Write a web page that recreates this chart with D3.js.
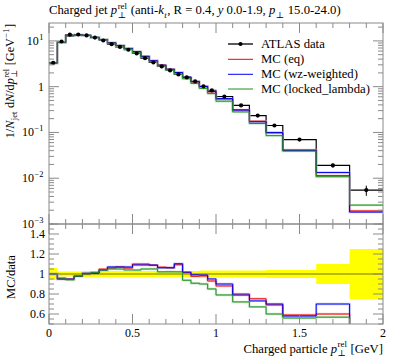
<!DOCTYPE html>
<html><head><meta charset="utf-8">
<script src="https://cdn.jsdelivr.net/npm/d3@7"></script>
<style>
html,body{margin:0;padding:0;background:#fff;}
svg text{font-family:"Liberation Serif","DejaVu Serif",serif;fill:#000;white-space:pre;}
</style></head>
<body><svg id="c" width="397" height="358"></svg>
<script>
// ---- data ----
const binEdges = [0,0.05,0.1,0.15,0.2,0.25,0.3,0.35,0.4,0.45,0.5,0.55,0.6,0.65,0.7,0.75,0.8,0.85,0.9,0.95,1.0,1.1,1.2,1.3,1.4,1.6,1.8,2.0];
const atlasData = [3.3,9.7,13.7,13.8,13.2,11.8,10.2,8.5,7.4,6.4,5.3,4.2,3.37,2.77,2.26,1.85,1.59,1.30,1.02,0.83,0.61,0.39,0.234,0.142,0.070,0.019,0.0055];
const atlasRelErr = [0.06,0.025,0.025,0.025,0.03,0.03,0.03,0.03,0.03,0.03,0.03,0.03,0.03,0.03,0.03,0.03,0.03,0.03,0.035,0.035,0.035,0.035,0.035,0.04,0.04,0.10,0.25];
const mcEq = [3.30,9.22,13.0,13.5,13.2,11.9,10.7,9.01,7.92,6.78,5.83,4.62,3.67,2.96,2.40,2.02,1.61,1.27,1.00,0.772,0.537,0.312,0.176,0.098,0.0413,0.0114,0.00193];
const mcWz = [3.30,9.22,13.0,13.5,13.3,11.9,10.6,9.10,7.92,6.85,5.78,4.58,3.67,2.94,2.40,2.04,1.62,1.29,1.01,0.789,0.549,0.308,0.171,0.0994,0.0406,0.0133,0.00182];
const mcLocked = [3.30,9.31,12.9,13.5,13.2,12.0,10.6,8.93,7.77,6.66,5.51,4.41,3.54,2.83,2.31,1.89,1.49,1.18,0.918,0.706,0.482,0.281,0.157,0.0852,0.0392,0.0108,0.00259];
const seriesNames = ["ATLAS data","MC (eq)","MC (wz-weighted)","MC (locked_lambda)"];
const seriesColors = ["#000000","#ee0000","#0000ee","#1f8f1f"];
const bandColors = ["#000","#ff9a9a","#9a9aff","#8fcf8f"];
const xTickLabels = ["0","0.5","1","1.5","2"];
const ratioTickLabels = ["0.6","0.8","1","1.2","1.4"];

// ---- layout ----
const L=49,R=383,T=23,MB=224,RB=324;
const svg=d3.select("#c");
const x=d3.scaleLinear().domain([0,2]).range([L,R]);
const y=d3.scaleLog().domain([1e-3,24.6]).range([MB,T]);
const yr=d3.scaleLinear().domain([0.5,1.5]).range([RB,MB]);
const frameCol="#8a8a8a";

function rich(parent,px,py,parts,size,anchor,rot){
  const g=parent.append("g");
  let cx=0;
  const add=(t,xx,yy,sz,it)=>{const e=g.append("text").attr("x",xx).attr("y",yy).attr("font-size",sz).attr("xml:space","preserve").text(t);if(it)e.attr("font-style","italic");return e.node().getComputedTextLength();};
  parts.forEach(p=>{
    if(typeof p==="string"){cx+=add(p,cx,0,size,false);}
    else if(p.i!==undefined){cx+=add(p.i,cx,0,size,true);}
    else{
      let w=0;
      if(p.sup!==undefined)w=Math.max(w,add(p.sup,cx+0.5,-0.42*size,size*0.7,p.it));
      if(p.sub!==undefined)w=Math.max(w,add(p.sub,cx+0.5,0.28*size,size*0.7,p.it));
      cx+=w+1;
    }
  });
  const off=anchor==="end"?-cx:anchor==="middle"?-cx/2:0;
  g.attr("transform",`translate(${px},${py}) rotate(${rot||0}) translate(${off},0)`);
  return g;
}

function stepPts(vals){const pts=[];vals.forEach((v,i)=>{pts.push([binEdges[i],v]);pts.push([binEdges[i+1],v]);});return pts;}

const defs=svg.append("defs");
defs.append("clipPath").attr("id","cm").append("rect").attr("x",L).attr("y",T).attr("width",R-L).attr("height",MB-T);
defs.append("clipPath").attr("id","cr").append("rect").attr("x",L).attr("y",MB).attr("width",R-L).attr("height",RB-MB);

// ---- main panel ----
const gm=svg.append("g").attr("clip-path","url(#cm)");
const lineM=d3.line().x(d=>x(d[0])).y(d=>y(d[1]));
gm.append("path").attr("d",lineM(stepPts(atlasData))).attr("fill","none").attr("stroke","#000").attr("stroke-width",1.2);
const mcs=[mcEq,mcWz,mcLocked];
mcs.forEach((s,k)=>{
  gm.append("path").attr("d",lineM(stepPts(s))).attr("fill","none").attr("stroke",bandColors[k+1]).attr("stroke-width",2.4).attr("opacity",0.5);
});
mcs.forEach((s,k)=>{
  gm.append("path").attr("d",lineM(stepPts(s))).attr("fill","none").attr("stroke",seriesColors[k+1]).attr("stroke-width",1);
});
atlasData.forEach((v,i)=>{
  const cxp=x((binEdges[i]+binEdges[i+1])/2);
  gm.append("line").attr("x1",cxp).attr("x2",cxp).attr("y1",y(v*(1+atlasRelErr[i]))).attr("y2",y(v*(1-atlasRelErr[i]))).attr("stroke","#000").attr("stroke-width",1);
  gm.append("circle").attr("cx",cxp).attr("cy",y(v)).attr("r",2.1).attr("fill","#000");
});

// ---- ratio panel ----
const gr=svg.append("g").attr("clip-path","url(#cr)");
const bandArea=d3.area().x(d=>x(d[0])).y0(d=>yr(1-d[1])).y1(d=>yr(1+d[1]));
gr.append("path").attr("d",bandArea(stepPts(atlasRelErr))).attr("fill","#ffff00").attr("stroke","none");
gr.append("line").attr("x1",L).attr("x2",R).attr("y1",yr(1)).attr("y2",yr(1)).attr("stroke","#000").attr("stroke-opacity",0.55).attr("stroke-width",1);
const lineR=d3.line().x(d=>x(d[0])).y(d=>yr(d[1]));
mcs.forEach((s,k)=>{
  const r=s.map((v,i)=>v/atlasData[i]);
  gr.append("path").attr("d",lineR(stepPts(r))).attr("fill","none").attr("stroke",bandColors[k+1]).attr("stroke-width",2.4).attr("opacity",0.5);
});
mcs.forEach((s,k)=>{
  const r=s.map((v,i)=>v/atlasData[i]);
  gr.append("path").attr("d",lineR(stepPts(r))).attr("fill","none").attr("stroke",seriesColors[k+1]).attr("stroke-width",1);
});

// ---- frames & ticks ----
const ga=svg.append("g").attr("stroke",frameCol).attr("stroke-width",1).attr("fill","none");
ga.append("rect").attr("x",L).attr("y",T).attr("width",R-L).attr("height",MB-T);
ga.append("rect").attr("x",L).attr("y",MB).attr("width",R-L).attr("height",RB-MB);
function tk(x1,y1,x2,y2){ga.append("line").attr("x1",x1).attr("y1",y1).attr("x2",x2).attr("y2",y2);}
d3.range(0,21).forEach(j=>{
  const v=j/10, px=x(v), len=(j%5===0)?10:5;
  [T,MB].forEach(t=>tk(px,t,px,t+len));
  [MB,RB].forEach(b=>tk(px,b,px,b-len));
});
for(let e=-3;e<=1;e++){for(let m=1;m<=9;m++){const v=m*Math.pow(10,e);if(v<1e-3||v>24.6)continue;const py=y(v),len=m===1?10:5;tk(L,py,L+len,py);tk(R,py,R-len,py);}}
d3.range(10,31).forEach(j=>{const v=j/20, py=yr(v), len=(j%4===0)?10:5;tk(L,py,L+len,py);tk(R,py,R-len,py);});

// ---- labels ----
const fs=12, big=12.7;
const gl=svg.append("g");
[[10,"10","1"],[1,"1",null],[0.1,"10","−1"],[0.01,"10","−2"],[0.001,"10","−3"]].forEach(d=>{
  const parts=d[2]?[d[1],{sup:d[2]}]:[d[1]];
  rich(gl,44,y(d[0])+4,parts,fs,"end");
});
ratioTickLabels.forEach(t=>{rich(gl,45,yr(+t)+4,[t],fs,"end");});
xTickLabels.forEach(t=>{rich(gl,x(+t),337,[t],fs,"middle");});
rich(gl,49,14,["Charged jet ",{i:"p"},{sup:"rel",sub:"⊥"}," (anti-",{i:"k"},{sub:"t",it:true},", R = 0.4, ",{i:"y"}," 0.0-1.9, ",{i:"p"},{sub:"⊥"}," 15.0-24.0)"],big,"start");
rich(gl,383,352.5,["Charged particle ",{i:"p"},{sup:"rel",sub:"⊥"}," [GeV]"],big,"end");
rich(gl,14,24,["1/",{i:"N"},{sub:"jet"}," d",{i:"N"},"/d",{i:"p"},{sup:"rel",sub:"⊥"}," [GeV",{sup:"−1"},"]"],12.2,"end",-90);
rich(gl,15,277,["MC/data"],12.5,"middle",-90);

const legY=[44,59.3,74.3,89];
seriesNames.forEach((n,k)=>{
  gl.append("line").attr("x1",228).attr("x2",253).attr("y1",legY[k]).attr("y2",legY[k]).attr("stroke",seriesColors[k]).attr("stroke-width",k===0?1.3:1);
  if(k===0)gl.append("circle").attr("cx",240.5).attr("cy",legY[k]).attr("r",2.1).attr("fill","#000");
  rich(gl,261,legY[k]+4,[n],big,"start");
});
</script></body></html>
